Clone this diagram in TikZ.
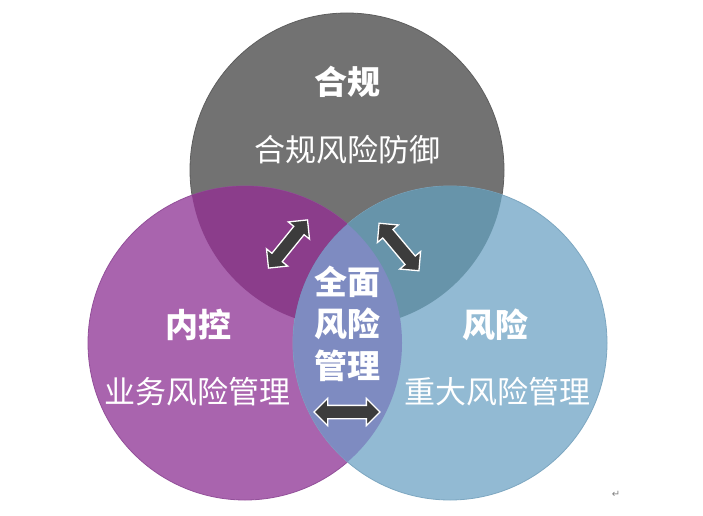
\documentclass[tikz,border=0pt]{standalone}
\usepackage{fontspec}
\setmainfont{Noto Sans CJK SC}
\newfontfamily\symfont{DejaVu Sans}
\usetikzlibrary{shapes.arrows}
\definecolor{compgray}{HTML}{727272}
\definecolor{compline}{HTML}{5E5E5E}
\definecolor{ctrlpurple}{HTML}{A964AE}
\definecolor{ctrlline}{HTML}{93509A}
\definecolor{riskblue}{HTML}{92BAD3}
\definecolor{riskline}{HTML}{7DA7C1}
\definecolor{compctrl}{HTML}{8B3D8B}
\definecolor{comprisk}{HTML}{6794AA}
\definecolor{allrisk}{HTML}{7E8BC1}
\definecolor{arrowgray}{HTML}{3C3C3C}
\tikzset{
  circtitle/.style={text=white, font=\fontsize{33}{33}\selectfont\bfseries},
  circtext/.style={text=white, font=\fontsize{31}{31}\selectfont},
  linkarrow/.style={double arrow, draw=white, line width=1.3pt, fill=arrowgray,
    minimum height=62pt, double arrow head extend=7pt,
    double arrow head indent=0pt, inner sep=0pt, inner ysep=6pt},
}
\begin{document}
\begin{tikzpicture}[x=1pt,y=1pt]
  \useasboundingbox (0,0) rectangle (703,515);
  % circle centres
  \coordinate (ctop) at (347,345);
  \coordinate (cctrl) at (245,172);
  \coordinate (crisk) at (450,172);
  % circles
  \draw[compline, fill=compgray, line width=0.8pt] (ctop) circle (157pt);
  \draw[ctrlline, fill=ctrlpurple, line width=0.8pt] (cctrl) circle (157pt);
  \draw[riskline, fill=riskblue, line width=0.8pt] (crisk) circle (157pt);
  % overlaps
  \begin{scope}
    \clip (ctop) circle (157pt);
    \fill[compctrl] (cctrl) circle (157pt);
    \fill[comprisk] (crisk) circle (157pt);
  \end{scope}
  \begin{scope}
    \clip (cctrl) circle (157pt);
    \fill[allrisk] (crisk) circle (157pt);
  \end{scope}
  % labels
  \node[circtitle] (comptitle) at (347,433) {合规};
  \node[circtext] (comptext) at (347,365) {合规风险防御};
  \node[circtitle] (ctrltitle) at (198,190) {内控};
  \node[circtext] (ctrltext) at (197,123) {业务风险管理};
  \node[circtitle] (risktitle) at (495,190) {风险};
  \node[circtext] (risktext) at (497,123) {重大风险管理};
  \node[circtitle, font=\fontsize{33}{42}\selectfont\bfseries, align=center] (alltitle) at (347,191) {全面\\风险\\管理};
  % arrows
  \node[linkarrow, rotate=51] (arrowleft) at (288,271) {};
  \node[linkarrow, rotate=-50] (arrowright) at (399,268) {};
  \node[linkarrow, minimum height=66pt] (arrowbottom) at (347,103) {};
  \node[text=gray, font=\symfont\fontsize{10}{10}\selectfont] (parmark) at (616,21) {↵};
\end{tikzpicture}
\end{document}
